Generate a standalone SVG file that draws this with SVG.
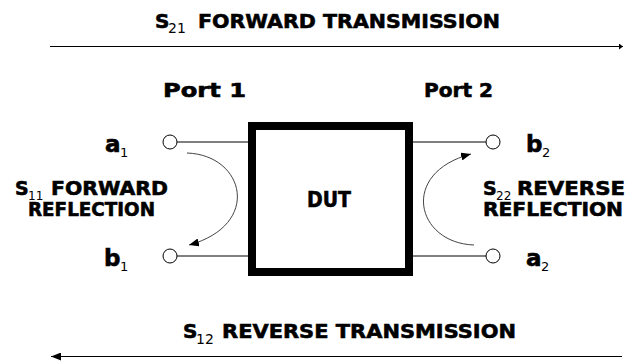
<svg xmlns="http://www.w3.org/2000/svg" width="630" height="362" viewBox="0 0 630 362">
<style>
.b{font-family:"DejaVu Sans",Verdana,sans-serif;font-weight:bold;fill:#000;stroke:#000;stroke-width:0.6}
.s{font-family:"DejaVu Sans",Verdana,sans-serif;font-weight:normal;fill:#000}
.w{stroke:#000;stroke-width:1;fill:none}
.c{stroke:#000;stroke-width:1;fill:#fff}
.cv{stroke:#444;stroke-width:1;fill:none}
</style>
<defs>
<marker id="ah" viewBox="0 0 10 8" refX="10" refY="4" markerWidth="10" markerHeight="8" markerUnits="userSpaceOnUse" orient="auto">
<path d="M0,0 L10,4 L0,8 Z" fill="#000"/>
</marker>
<marker id="tk" viewBox="0 0 4 6" refX="4" refY="3" markerWidth="4" markerHeight="6" markerUnits="userSpaceOnUse" orient="auto">
<path d="M0,0 L4,3 L0,6 Z" fill="#000"/>
</marker>
</defs>
<rect width="630" height="362" fill="#fff"/>

<g id="title-forward">
<text class="b" x="155" y="28" font-size="20">S</text>
<text class="s" x="168" y="33" font-size="14">21</text>
<text class="b" x="198" y="28" font-size="20" textLength="302" lengthAdjust="spacingAndGlyphs">FORWARD TRANSMISSION</text>
</g>
<g id="title-reverse">
<text class="b" x="183" y="338" font-size="20">S</text>
<text class="s" x="196" y="344" font-size="14">12</text>
<text class="b" x="222" y="338" font-size="20" textLength="294" lengthAdjust="spacingAndGlyphs">REVERSE TRANSMISSION</text>
</g>

<g id="port1">
<text class="b" x="163" y="97" font-size="20" textLength="83" lengthAdjust="spacingAndGlyphs">Port 1</text>
</g>
<g id="port2">
<text class="b" x="424" y="97" font-size="20" textLength="69" lengthAdjust="spacingAndGlyphs">Port 2</text>
</g>

<g id="dut">
<rect x="252" y="126" width="157" height="146" fill="#fff" stroke="#000" stroke-width="8"/>
<text class="b" x="307" y="207" font-size="21" textLength="44" lengthAdjust="spacingAndGlyphs">DUT</text>
</g>

<g id="s11-label">
<text class="b" x="15" y="195" font-size="19">S</text>
<text class="s" x="28" y="200" font-size="12">11</text>
<text class="b" x="51" y="195" font-size="19" textLength="117" lengthAdjust="spacingAndGlyphs">FORWARD</text>
<text class="b" x="28" y="216" font-size="19" textLength="127" lengthAdjust="spacingAndGlyphs">REFLECTION</text>
</g>
<g id="s22-label">
<text class="b" x="483" y="195" font-size="19">S</text>
<text class="s" x="496" y="200" font-size="12">22</text>
<text class="b" x="517" y="195" font-size="19" textLength="108" lengthAdjust="spacingAndGlyphs">REVERSE</text>
<text class="b" x="483" y="216" font-size="19" textLength="140" lengthAdjust="spacingAndGlyphs">REFLECTION</text>
</g>

<g id="a1">
<circle class="c" cx="170" cy="142" r="7"/>
<text class="b" x="105" y="152" font-size="23">a</text>
<text class="s" x="120" y="157" font-size="13">1</text>
</g>
<g id="b1">
<circle class="c" cx="170" cy="256" r="7"/>
<text class="b" x="104" y="266" font-size="23">b</text>
<text class="s" x="120" y="271" font-size="13">1</text>
</g>
<g id="b2">
<circle class="c" cx="493" cy="142" r="7"/>
<text class="b" x="526" y="152" font-size="23">b</text>
<text class="s" x="542" y="157" font-size="13">2</text>
</g>
<g id="a2">
<circle class="c" cx="493" cy="256" r="7"/>
<text class="b" x="526" y="266" font-size="23">a</text>
<text class="s" x="541" y="271" font-size="13">2</text>
</g>

<g id="connectors">
<line class="w" x1="177" y1="142" x2="248" y2="142"/>
<line class="w" x1="177" y1="256" x2="248" y2="256"/>
<line class="w" x1="413" y1="142" x2="486" y2="142"/>
<line class="w" x1="413" y1="256" x2="486" y2="256"/>
<line class="w" x1="50" y1="46.5" x2="623" y2="46.5" marker-end="url(#tk)"/>
<line class="w" x1="622" y1="356.5" x2="51" y2="356.5" marker-end="url(#ah)"/>
<path class="cv" d="M187,153 C245,155 262,225 189,245" marker-end="url(#ah)"/>
<path class="cv" d="M474,245 C416,243 399,173 471,154" marker-end="url(#ah)"/>
</g>
</svg>
